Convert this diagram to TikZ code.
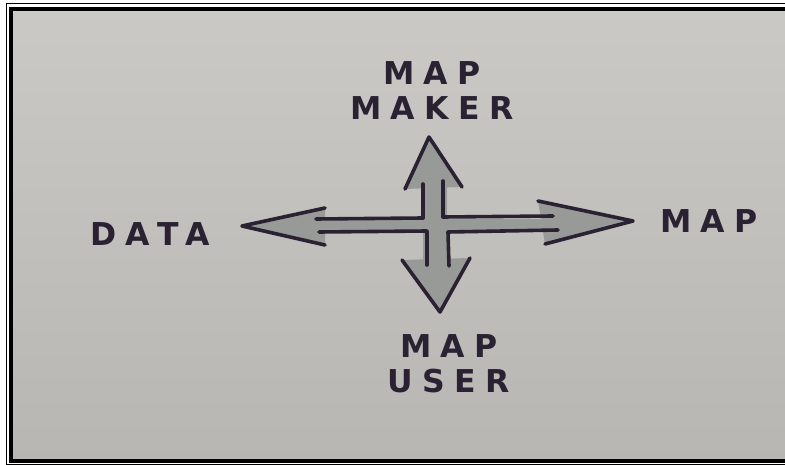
\documentclass[tikz,border=0pt]{standalone}
\usepackage{fontspec}
\usepackage{tikz}
\usetikzlibrary{positioning}

\newfontfamily\mano{DejaVu Sans}[LetterSpace=30]

\definecolor{inchiostro}{RGB}{42,34,50}
\definecolor{grigiofreccia}{RGB}{152,154,151}
\definecolor{cartasu}{RGB}{202,201,197}
\definecolor{cartagiu}{RGB}{184,182,179}

\tikzset{
    etichetta/.style={text=inchiostro, font=\mano\bfseries\fontsize{31.5}{35}\selectfont, align=center, inner sep=0pt},
    riempi/.style={fill=grigiofreccia},
    tratto/.style={draw=inchiostro, line width=3.6pt, line cap=round, line join=round}
}

\begin{document}
\begin{tikzpicture}[x=1pt, y=-1pt]

    \useasboundingbox (0,0) rectangle (785,465);
    \clip (0,0) rectangle (785,465);

    % cornice
    \fill[white] (0,0) rectangle (785,465);
    \shade[top color=cartasu, bottom color=cartagiu] (11,8) rectangle (790,461);
    \draw[line width=1.3pt] (6.5,3.5) rectangle (800,464.5); % linea sottile
    \draw[line width=4pt] (11,8.8) rectangle (800,461); % linea spessa

    % centro della croce
    \coordinate (centro) at (433,225);

    % riempimento frecce
    \fill[riempi] (316,219) rectangle (556,232); % asta orizzontale
    \fill[riempi] (423,183) rectangle (447,264); % asta verticale
    \fill[riempi] (242,226) -- (325,208) -- (325,245) -- cycle; % punta sinistra
    \fill[riempi] (633,221) -- (538,201) -- (545,244) -- cycle; % punta destra
    \fill[riempi] (429,137) -- (405,189) -- (462,187) -- cycle; % punta su
    \fill[riempi] (440,312) -- (402,260) -- (470,258) -- cycle; % punta giu

    % punte
    \draw[tratto] (325,208) -- (242,226) -- (325,245);
    \draw[tratto] (538,201) -- (633,221) -- (545,244);
    \draw[tratto] (405,189) -- (429,137) -- (462,187);
    \draw[tratto] (402,260) -- (440,312) -- (470,258);

    % aste
    \draw[tratto] (316,219) -- (423,218);
    \draw[tratto] (443,217) -- (553,216);
    \draw[tratto] (319,232) -- (427,231);
    \draw[tratto] (448,232) -- (558,230);
    \draw[tratto] (423,184) -- (423,218);
    \draw[tratto] (443,181) -- (443,217);
    \draw[tratto] (427,232) -- (427,265);
    \draw[tratto] (448,232) -- (449,266);

    % etichette
    \node[etichetta] (creatore) at (432,91) {MAP\\MAKER};
    \node[etichetta] (utente) at (449,364) {MAP\\USER};
    \node[etichetta] (dati) at (150,234) {DATA};
    \node[etichetta] (mappa) at (709,221) {MAP};

\end{tikzpicture}
\end{document}
